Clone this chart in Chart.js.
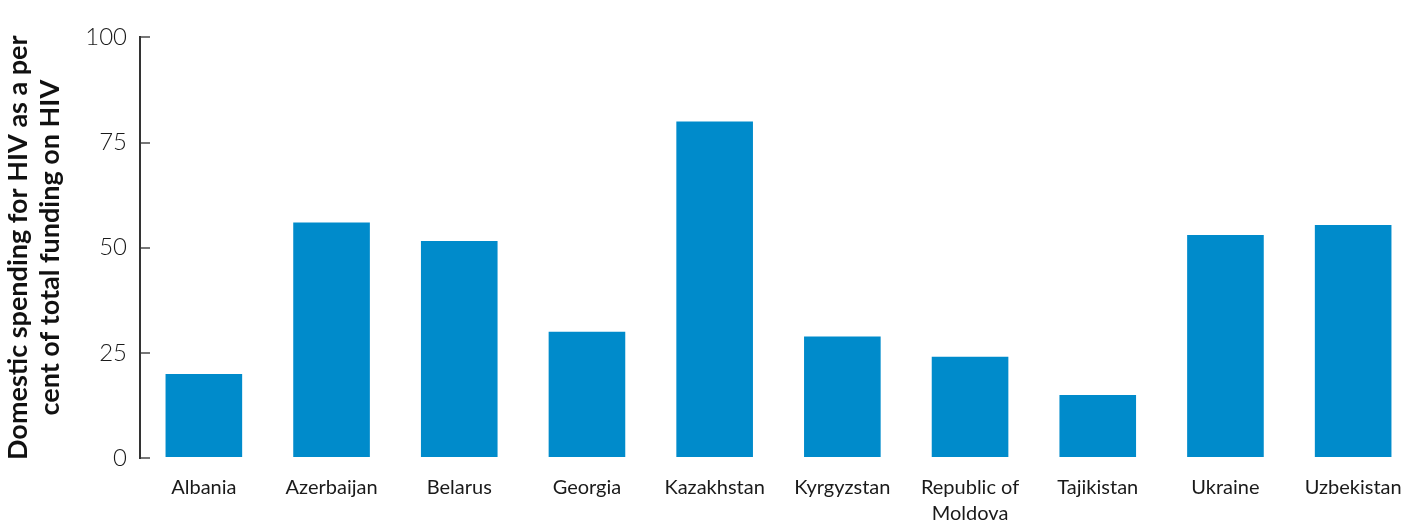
<!DOCTYPE html>
<html>
<head>
<meta charset="utf-8">
<script src="https://cdn.jsdelivr.net/npm/chart.js@4.4.1/dist/chart.umd.min.js"></script>
<style>
  html, body { margin: 0; padding: 0; background: #fff; overflow: hidden; }
  #wrap { width: 1417px; height: 522px; }
</style>
</head>
<body>
<div id="wrap"><canvas id="chart"></canvas></div>
<script>
const countries = ['Albania', 'Azerbaijan', 'Belarus', 'Georgia', 'Kazakhstan', 'Kyrgyzstan',
    ['Republic of', 'Moldova'], 'Tajikistan', 'Ukraine', 'Uzbekistan'];
const domesticShare = [20, 56, 51.6, 30, 80, 28.9, 24.1, 15, 53, 55.4];
const yTicks = [0, 25, 50, 75, 100];
const yTitle = ['Domestic spending for HIV as a per', 'cent of total funding on HIV'];

const barColor = '#008bcb';

new Chart(document.getElementById('chart'), {
    type: 'bar',
    data: {
        labels: countries,
        datasets: [{
            data: domesticShare,
            backgroundColor: barColor,
            barPercentage: 0.6,
            categoryPercentage: 1
        }]
    },
    options: {
        responsive: true,
        maintainAspectRatio: false,
        animation: false,
        layout: { padding: { top: 35, right: 0, left: 0, bottom: 0 } },
        plugins: {
            legend: { display: false },
            tooltip: { enabled: false }
        },
        scales: {
            x: {
                grid: { display: false, drawTicks: false },
                border: { display: false },
                ticks: {
                    color: '#1a1a1a',
                    padding: 17,
                    maxRotation: 0,
                    autoSkip: false,
                    font: { family: 'Lato', size: 20, lineHeight: 1.3 }
                },
                // keep the plot area fixed, the last label may hang over the edge
                afterFit: scale => {
                    scale.height = 64;
                    scale.paddingLeft = 0;
                    scale.paddingRight = 0;
                }
            },
            y: {
                min: 0,
                max: 100,
                afterBuildTicks: scale => { scale.ticks = yTicks.map(v => ({ value: v })); },
                grid: { drawOnChartArea: false, drawTicks: true, tickLength: -10, color: '#777', lineWidth: 2 },
                border: { display: true, color: '#333', width: 2 },
                ticks: {
                    color: '#1a1a1a',
                    padding: 23,
                    font: { family: 'Lato', size: 24, weight: 300 }
                },
                title: {
                    display: true,
                    text: yTitle,
                    color: '#111',
                    padding: { top: 2, bottom: 0 },
                    font: { family: 'Lato', size: 27, weight: 'bold', lineHeight: 1.2 }
                },
                afterFit: scale => { scale.width = 140; }
            }
        }
    }
});
</script>
</body>
</html>
